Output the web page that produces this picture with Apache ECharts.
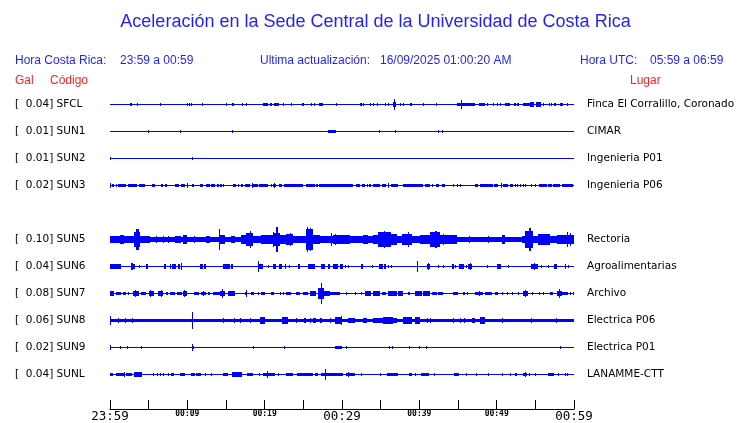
<!DOCTYPE html>
<html><head><meta charset="utf-8">
<script src="https://cdn.jsdelivr.net/npm/echarts@6/dist/echarts.min.js"></script>
<style>html,body{margin:0;padding:0;background:#fff}#c{width:740px;height:423px}</style>
</head><body><div id="c"></div>
<script>
// ---- data ----
const codes = ['SFCL','SUN1','SUN2','SUN3','SUN4','SUN5','SUN6','SUN7','SUN8','SUN9','SUNL'];
const galMax = [0.04,0.01,0.01,0.02,null,0.10,0.04,0.08,0.06,0.02,0.04];
const places = ['Finca El Corralillo, Coronado','CIMAR','Ingenieria P01','Ingenieria P06','','Rectoria','Agroalimentarias','Archivo','Electrica P06','Electrica P01','LANAMME-CTT'];
const xLabels = ['23:59','00:09','00:19','00:29','00:39','00:49','00:59'];
// background noise half-amplitude per trace (amplitude units, 27 = one trace band)
const baseAmp = [0.5,0.5,0.5,0.5,0,2.5,0.5,0.5,1.5,0.5,0.5];
// bursts: [start minute, end minute, half amplitude]
const sfcl = [[2.65,2.87,1.3],[3.47,3.47,1.3],[6.45,6.45,1.3],[9.94,9.94,1],[10.2,10.2,0.8],[10.51,10.64,1.3],[11.88,11.88,0.8],[14.99,14.99,0.8],[15.77,16.08,1.3],[17.06,17.06,1],[17.54,17.54,1],[19.74,20.48,1.3],[20.69,21.0,1],[21.17,21.81,1.3],[22.37,22.37,1],[23.4,23.4,0.8],[24.79,25.09,1.3],[25.99,25.99,1],[26.38,26.38,1],[26.99,27.55,1.3],[29.19,29.41,1.3],[32.3,32.65,1.3],[32.73,32.73,1],[33.63,33.63,0.8],[34.02,34.02,0.8],[34.54,34.54,0.8],[35.57,35.75,1],[36.01,36.01,0.8],[36.57,36.92,2.5],[36.7,36.8,5.5],[37.51,37.51,0.8],[37.86,37.86,0.8],[38.81,38.99,1],[40.49,40.49,0.8],[42.17,42.17,0.8],[44.89,47.18,1.3],[45.41,45.41,4.5],[47.7,48.44,1.3],[48.78,48.78,0.8],[49.55,49.55,1],[50.07,50.07,1],[50.42,50.42,1],[51.03,51.72,1.3],[52.27,52.49,1],[52.66,52.84,1],[53.36,54.3,1.3],[54.34,54.82,2.3],[55.08,55.69,2],[56.03,56.03,1],[56.72,56.72,1],[57.02,57.02,1],[57.45,57.63,1],[58.19,58.62,1.3],[59.13,59.13,0.8]];
const sun1 = [[4.89,4.89,1.3],[9.04,9.04,1.3],[15.77,15.77,0.8],[28.16,29.28,1.3],[34.8,34.8,1.3],[36.87,36.87,0.8],[42.43,42.43,1.3],[42.95,42.95,0.8]];
const sun2 = [[0,0.15,1.3],[10.59,10.59,1.3]];
const sun3 = [[0,0.15,2.5],[0.28,0.58,1.3],[0.75,0.88,1.3],[1.01,2.1,1.3],[2.27,3.47,1.3],[3.73,4.34,1.3],[4.42,4.42,1.3],[5.37,5.8,1.3],[6.54,6.54,1.3],[6.75,6.75,1.3],[7.14,7.4,1.3],[8.35,8.87,1.3],[9.21,9.64,1.3],[9.9,9.9,2],[10.59,10.85,1.3],[11.59,12.01,1.3],[12.36,12.36,1.3],[12.53,12.88,1.3],[13.01,13.53,1.3],[13.83,14.08,1.3],[14.26,14.47,1.3],[14.6,14.6,1],[15.9,16.34,1.3],[16.55,16.55,1],[16.89,17.19,1.3],[17.5,17.93,1.3],[17.97,18.15,1.3],[18.36,18.36,2.3],[18.49,19.13,1.3],[19.26,20.43,1.3],[20.87,20.87,1],[21.08,21.51,1.3],[21.25,21.25,2],[21.81,22.24,1.3],[22.46,24.96,1.3],[25.4,26.47,1.3],[26.69,26.9,1.3],[27.03,29.71,1.3],[28.41,31.43,1.3],[31.78,32.3,1.3],[32.65,32.95,1.3],[33.17,33.37,1.3],[33.5,33.81,1.3],[34.02,34.89,1.3],[35.11,35.75,1.3],[35.96,35.96,2],[36.4,37.26,1.3],[37.9,40.49,1.3],[40.71,41.36,1.3],[41.58,41.79,1.3],[42.14,42.56,1.3],[42.87,43.3,1.3],[44.38,44.38,1],[44.89,44.89,1],[45.24,45.24,1],[47.18,47.61,1.3],[47.83,49.55,1.3],[49.68,50.2,1.3],[50.51,50.51,2.3],[50.77,51.5,1.3],[51.72,52.14,1.3],[52.36,52.36,1],[52.66,52.66,1],[53.01,53.01,1],[53.36,53.36,1],[53.66,53.66,1],[54.43,54.43,1],[54.95,54.95,1],[55.51,56.47,1.3],[56.67,57.11,1.3],[57.32,58.19,1.3],[58.41,59.91,1.3]];
const sun4 = [];
const sun5 = [[0,1.23,2.8],[1.23,1.75,4.3],[1.75,2.95,2.8],[2.95,3.13,3.5],[3.13,3.91,6.7],[3.4,3.8,10],[3.91,4.47,3],[4.47,5.11,3.5],[6.0,6.1,3.3],[6.8,6.9,3.3],[7.5,7.6,3.3],[8.35,9.22,3.5],[9.42,9.94,4.3],[10.9,11.0,3.5],[12.45,12.88,3.3],[14.12,14.24,10.5],[14.26,14.82,3.8],[15.69,16.12,3.5],[16.98,17.63,3.8],[17.63,18.49,6],[18.08,18.22,8],[18.49,19.57,3.3],[19.57,21.08,4],[21.02,21.12,7],[21.08,21.94,6.5],[21.52,21.68,12],[21.94,22.81,3.8],[22.81,23.66,5],[23.26,23.4,6],[23.66,25.4,3.3],[25.4,26.25,10],[25.42,25.56,12.3],[25.85,26.0,11],[26.25,27.12,4.3],[27.12,29.71,3.3],[29.04,29.16,4.8],[28.56,28.7,6],[28.84,31.0,3.8],[29.49,30.36,4.3],[31.0,34.02,3],[32.73,33.37,3.8],[34.02,34.67,4.3],[34.67,36.4,7],[35.46,35.6,8.3],[35.9,36.02,7.5],[36.4,37.05,5],[37.05,37.7,3.3],[37.7,38.99,5.5],[38.48,38.62,7.5],[38.99,40.06,3.3],[40.06,41.36,4.3],[41.36,42.65,7],[42.06,42.22,8.3],[42.65,43.3,4.5],[43.02,43.14,5.5],[43.3,44.82,3.8],[46.4,46.5,3.3],[48.86,48.96,3.3],[50.64,51.07,4],[53.23,53.66,3.5],[53.66,54.73,8],[54.22,54.38,11],[54.73,55.38,3.3],[55.38,56.89,5],[56.89,57.76,3],[57.76,60,4.5],[59.06,59.2,7.5],[59.42,59.54,6.5]];
const sun6 = [[0,0.36,2.3],[0.15,1.45,1.7],[2.74,2.95,3],[2.95,3.17,1.7],[3.73,3.73,1],[4.6,4.89,1.7],[6.93,7.18,1.7],[7.7,7.92,1.7],[8.05,8.57,1.7],[8.78,9.0,1.7],[9.17,9.17,3],[11.59,12.01,1.7],[12.14,12.45,1.7],[14.6,15.47,1.7],[15.69,15.9,1.7],[19.13,19.13,4.7],[19.26,19.78,1.7],[20.43,20.43,1],[21.08,21.42,1.7],[21.81,22.29,1.7],[22.59,22.81,1.7],[23.11,23.11,1],[24.31,24.53,1.7],[25.61,26.47,1.7],[27.34,27.77,1.7],[28.2,28.41,1.7],[28.84,29.49,1.7],[29.71,30.14,1.7],[30.36,30.36,1],[30.79,30.79,1],[32.43,32.73,1.7],[33.94,33.94,1.3],[34.8,35.24,1.7],[35.44,35.75,1.7],[35.96,35.96,1],[36.4,36.4,1],[39.72,39.72,5.3],[40.93,41.36,1.7],[41.06,41.06,3],[42.36,42.36,1],[43.0,43.0,1],[44.17,44.47,1.7],[44.6,44.6,1.3],[45.15,45.8,1.7],[46.02,46.02,1],[46.32,46.76,1.7],[46.54,46.54,3],[48.78,48.78,1.3],[49.99,50.55,1.7],[51.42,51.42,1.3],[54.43,55.38,1.7],[54.82,54.82,2.7],[55.69,55.69,1.3],[56.67,56.67,1.3],[57.41,57.84,1.7],[58.83,58.83,2.3],[59.26,59.26,1]];
const sun7 = [[0,0.58,1.7],[0.36,0.36,2.5],[0.8,1.45,1.3],[1.66,2.1,1.3],[2.3,2.3,1],[2.95,3.73,2.3],[3.26,3.26,3.5],[4.04,4.69,1.3],[5.02,5.63,2],[5.2,5.2,3],[6.19,6.84,1.7],[6.54,6.54,2.7],[7.27,7.48,1.3],[7.7,8.35,1.3],[8.65,9.26,1.3],[9.42,9.94,2],[9.6,9.6,2.7],[10.85,11.5,1.3],[11.81,12.36,1.5],[12.01,12.01,2.3],[12.66,12.88,1.3],[13.31,14.17,1.3],[14.26,14.82,2.3],[14.52,14.52,4.3],[15.25,16.12,1.7],[17.41,17.71,1.5],[17.54,17.54,2.7],[18.28,18.58,1.3],[19.13,19.13,1],[19.57,20.0,1.3],[20.87,21.17,1.3],[21.94,21.94,1],[22.37,22.37,1],[22.81,23.46,1.3],[24.1,24.53,1.3],[24.96,25.61,1.3],[25.83,26.69,2],[26.9,27.64,5],[27.22,27.36,10],[27.64,28.41,2],[28.41,29.71,1.3],[30.58,30.58,1],[31.65,31.65,1],[32.52,32.52,1],[32.95,33.81,1.7],[34.02,34.89,2],[35.11,35.75,1.5],[35.96,37.05,1.7],[37.26,37.9,2],[38.55,38.77,1.3],[39.42,40.29,1.7],[39.85,39.85,2.3],[40.41,41.36,2],[41.58,42.23,1.5],[42.43,43.0,1.5],[44.38,45.02,1.3],[45.59,45.89,1.3],[46.11,46.11,1],[47.18,48.26,1.5],[47.7,47.7,2],[48.48,49.35,1.5],[49.77,50.12,1.3],[50.64,50.85,1.3],[51.29,51.29,1],[51.94,51.94,1],[52.79,52.79,1],[53.44,54.09,2.3],[53.66,53.66,3.3],[54.52,54.52,1],[55.51,55.51,1],[56.03,56.03,1],[56.89,57.32,1.3],[57.76,58.41,2.3],[58.02,58.02,4],[58.41,59.26,1.5],[59.48,59.48,1],[59.91,59.91,1]];
const sun8 = [[0,0.15,4.3],[1.0,1.0,2.2],[1.9,1.9,2.2],[2.9,2.9,2.2],[10.55,10.65,8],[14.6,14.6,2.2],[16.03,16.03,2.2],[16.76,16.76,2.2],[18.06,18.06,2.2],[19.35,20.0,2.7],[22.29,23.02,2.7],[24.1,24.1,2.5],[25.05,25.4,2.5],[25.83,25.83,2.3],[26.25,26.69,2.5],[27.12,27.47,2.5],[28.41,28.41,2.3],[29.28,29.71,2.5],[29.06,29.93,3],[29.93,29.93,3.7],[30.79,31.65,2.5],[32.73,33.17,2.5],[34.02,37.05,2.2],[35.31,36.61,3],[36.09,36.09,3.5],[37.9,38.99,2.7],[39.42,40.06,2.7],[40.93,40.93,2.2],[41.36,41.36,2.2],[44.38,44.38,2.2],[45.24,45.24,2.2],[45.8,45.8,2.2],[46.76,47.18,2.3],[47.83,48.48,2.7],[50.64,50.64,2.2],[54.43,54.43,2.2],[57.67,57.67,2.2]];
const sun9 = [[0,0.15,2],[1.32,1.32,0.9],[2.17,2.17,0.9],[3.99,3.99,0.9],[10.59,10.81,1.5],[10.59,10.59,2.7],[18.49,18.49,1.5],[22.5,22.5,1.5],[29.15,30.0,1.3],[30.49,30.49,0.9],[36.09,36.09,1.2],[36.53,36.53,0.8],[38.68,38.68,0.8],[39.97,39.97,1.2],[40.8,40.8,0.8],[58.23,58.23,0.8]];
const sunl = [[0,0.36,1.3],[0.8,1.75,1.3],[1.75,1.75,2.5],[2.1,2.87,1.3],[3.08,4.17,1.7],[3.39,3.39,2.5],[3.73,3.73,2.5],[4.04,4.04,2.5],[5.54,5.54,1],[6.06,6.06,1],[6.5,6.5,1],[6.84,6.84,1],[7.53,7.53,1],[7.83,8.22,1.3],[9.0,9.64,1.3],[10.51,10.94,1.3],[11.07,11.81,1.3],[12.23,12.23,1],[13.01,13.01,1],[14.6,15.25,1.3],[15.77,17.11,1.7],[16.12,16.12,2.3],[17.76,18.49,1.3],[19.26,19.26,1],[19.78,21.3,1.5],[20.3,20.3,3.3],[21.72,21.72,1],[22.81,23.66,1.3],[24.18,26.25,1.3],[26.47,26.9,1.3],[27.34,28.63,1.5],[27.81,27.81,5],[28.41,30.14,1.3],[30.58,31.65,1.3],[30.84,30.84,2],[32.52,32.52,1],[34.89,34.89,1],[35.83,37.26,1.5],[38.64,39.07,1.3],[39.42,39.42,1],[40.19,41.23,1.5],[41.88,41.88,1],[44.5,45.11,1.3],[46.02,46.02,1],[47.27,47.27,1],[48.91,48.91,1],[50.64,50.64,1],[51.72,51.72,1],[52.36,52.66,1.3],[53.36,53.88,1.3],[53.66,53.66,2],[54.21,54.21,1],[54.91,54.91,1],[56.67,57.41,1.3],[57.97,57.97,1],[58.83,58.83,1.3],[59.13,59.13,1]];
const traces = [sfcl,sun1,sun2,sun3,sun4,sun5,sun6,sun7,sun8,sun9,sunl];

// ---- build ----
const items = [];
traces.forEach((ev, k) => {
  if (baseAmp[k] > 0) items.push([0, 60, baseAmp[k], k]);
  ev.forEach(e => items.push([e[0], e[1], e[2], k]));
});

const BLUE = '#0000ff', HBLUE = '#1f1fff', RED = '#ff1f1f';
const hFont = '12px "Liberation Sans"';

function renderItem(params, api) {
  const t0 = api.value(0), t1 = api.value(1), a = api.value(2), row = api.value(3);
  const p0 = api.coord([t0, row]);
  const p1 = api.coord([t1, row]);
  const band = api.size([0, 1])[1];
  const h = a * band / 27;
  const x0 = Math.round(p0[0]);
  const x1 = Math.max(x0 + 1, Math.round(p1[0]));
  const cy = p0[1];
  let y0 = Math.floor(cy - h + 0.001), y1 = Math.ceil(cy + h - 0.001);
  if (y1 - y0 < 1) { y0 = Math.floor(cy - 0.5); y1 = y0 + 1; }
  return { type: 'rect', shape: { x: x0, y: y0, width: x1 - x0, height: y1 - y0 }, style: { fill: BLUE } };
}

const chart = echarts.init(document.getElementById('c'), null, { renderer: 'canvas' });
chart.setOption({
  animation: false,
  backgroundColor: '#fff',
  grid: { left: 110, width: 464, top: 91, height: 297 },
  xAxis: {
    type: 'value', min: 0, max: 60, interval: 5, offset: 21,
    axisLine: { show: true, lineStyle: { color: '#000', width: 1 } },
    axisTick: { show: true, inside: true, length: 9, lineStyle: { color: '#000' } },
    splitLine: { show: false },
    axisLabel: {
      margin: 1,
      formatter: v => {
        if (v % 10 !== 0) return '';
        const i = v / 10;
        return (i % 3 === 0 ? '{b|' : '{s|') + xLabels[i] + '}';
      },
      rich: {
        b: { fontFamily: 'DejaVu Sans Mono', fontSize: 12.5, color: '#000' },
        s: { fontFamily: 'DejaVu Sans Mono', fontSize: 8, fontWeight: 'bold', color: '#000' }
      }
    }
  },
  yAxis: [{
    type: 'category', inverse: true, data: codes, position: 'left',
    axisLine: { show: false }, axisTick: { show: false }, splitLine: { show: false },
    axisLabel: {
      align: 'left', margin: 95, color: '#000', fontFamily: 'DejaVu Sans', fontSize: 10.5,
      formatter: (v, i) => galMax[i] == null ? '' : '[  ' + galMax[i].toFixed(2) + '] ' + v
    }
  }, {
    type: 'category', inverse: true, data: codes, position: 'right',
    axisLine: { show: false }, axisTick: { show: false }, splitLine: { show: false },
    axisLabel: {
      margin: 13, color: '#000', fontFamily: 'DejaVu Sans', fontSize: 10.5,
      formatter: (v, i) => places[i]
    }
  }],
  series: [{
    type: 'custom', renderItem: renderItem, data: items,
    encode: { x: [0, 1], y: 3 }, clip: false, silent: true
  }],
  graphic: [
    { type: 'text', x: 375.5, y: 22.5, style: { text: 'Aceleración en la Sede Central de la Universidad de Costa Rica', fill: HBLUE, font: '18px "Liberation Sans"', align: 'center', verticalAlign: 'middle' } },
    { type: 'text', x: 15, y: 61, style: { text: 'Hora Costa Rica:', fill: HBLUE, font: hFont, verticalAlign: 'middle' } },
    { type: 'text', x: 120, y: 61, style: { text: '23:59 a 00:59', fill: HBLUE, font: hFont, verticalAlign: 'middle' } },
    { type: 'text', x: 260, y: 61, style: { text: 'Ultima actualización:', fill: HBLUE, font: hFont, verticalAlign: 'middle' } },
    { type: 'text', x: 380, y: 61, style: { text: '16/09/2025 01:00:20 AM', fill: HBLUE, font: hFont, verticalAlign: 'middle' } },
    { type: 'text', x: 580, y: 61, style: { text: 'Hora UTC:', fill: HBLUE, font: hFont, verticalAlign: 'middle' } },
    { type: 'text', x: 650, y: 61, style: { text: '05:59 a 06:59', fill: HBLUE, font: hFont, verticalAlign: 'middle' } },
    { type: 'text', x: 15, y: 81, style: { text: 'Gal', fill: RED, font: hFont, verticalAlign: 'middle' } },
    { type: 'text', x: 50, y: 81, style: { text: 'Código', fill: RED, font: hFont, verticalAlign: 'middle' } },
    { type: 'text', x: 630, y: 81, style: { text: 'Lugar', fill: RED, font: hFont, verticalAlign: 'middle' } }
  ]
});
</script></body></html>
